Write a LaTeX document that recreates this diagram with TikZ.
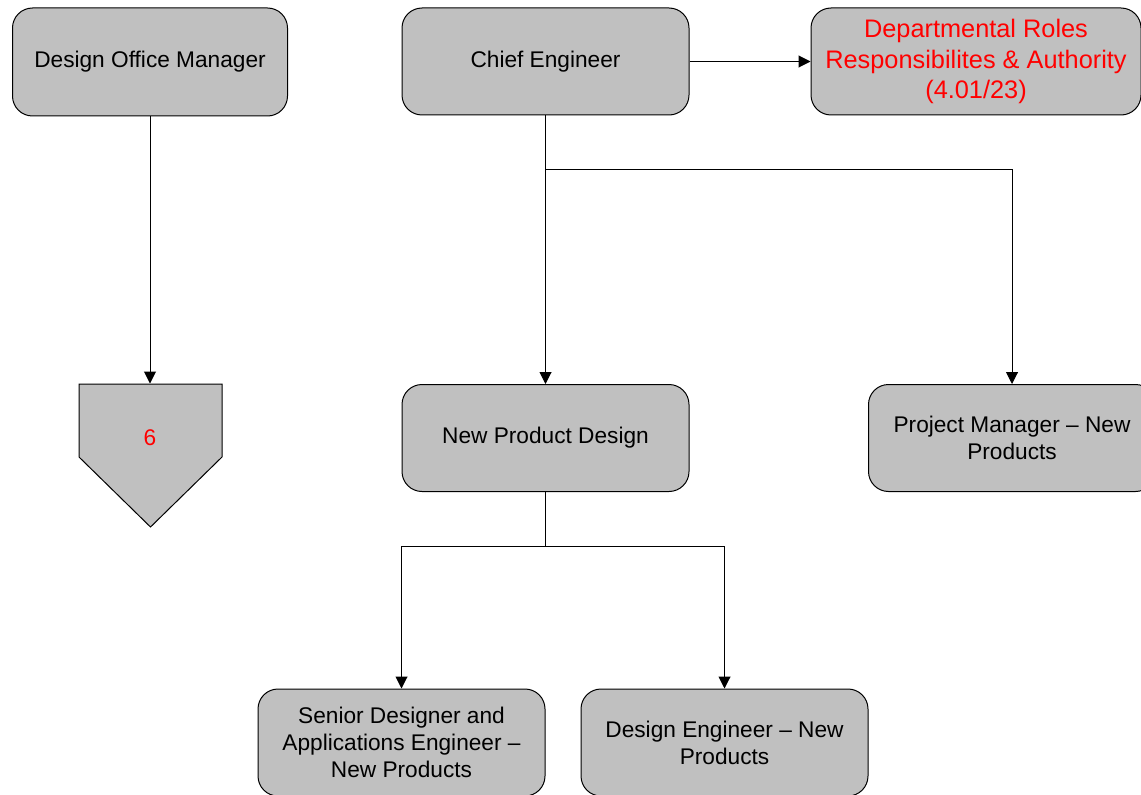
\documentclass[tikz,border=0pt]{standalone}
\usepackage{fontspec}
\setmainfont{Liberation Sans}
\usetikzlibrary{arrows.meta}
\definecolor{boxgray}{RGB}{192,192,192}

\begin{document}
\begin{tikzpicture}[x=0.75pt,y=-0.75pt,
    conn/.style={draw=black,line width=0.75pt,-{Triangle[length=9pt,width=9pt]}}]
\useasboundingbox (0,0) rectangle (1141,795);

% off-page marker
\draw [fill=boxgray,line width=0.75pt] (79,384) -- (222,384) -- (222,457) -- (150.5,527) -- (79,457) -- cycle;

\begin{scope}[every node/.style={rectangle,rounded corners=15pt,draw,line width=0.75pt,
              fill=boxgray,align=center,minimum width=215.25pt,minimum height=80.25pt,
              font=\fontsize{17}{20.25}\selectfont}]
    \node (dom) at (150,62) [minimum width=206.25pt,minimum height=81pt] {Design Office Manager};
    \node (chief) at (545.5,61.5) {Chief Engineer};
    \node (roles) at (976,61.5) [minimum width=247.5pt,text=red,
          font=\fontsize{19}{22.9}\selectfont] {Departmental Roles\\Responsibilites \& Authority\\(4.01/23)};
    \node (npd) at (545.5,438) {New Product Design};
    \node (pm) at (1012,438) {Project Manager -- New\\Products};
    \node (sdae) at (401.5,742.5) {Senior Designer and\\Applications Engineer --\\New Products};
    \node (deng) at (724.5,742.5) {Design Engineer -- New\\Products};
    \node (off) at (150,438) [draw=none,fill=none,text=red,minimum width=107.25pt,
          minimum height=81pt] {6};
\end{scope}

\begin{scope}[every edge/.style={conn}]
    \path (dom) edge (off);
    \path (chief) edge (roles);
    \path (chief) edge (npd);
\end{scope}

\draw [conn] (chief.south) -- ++(0,54) -| (pm.north);
\draw [conn] (npd.south) -- ++(0,54) -| (sdae.north);
\draw [conn] (npd.south) -- ++(0,54) -| (deng.north);
\end{tikzpicture}
\end{document}
